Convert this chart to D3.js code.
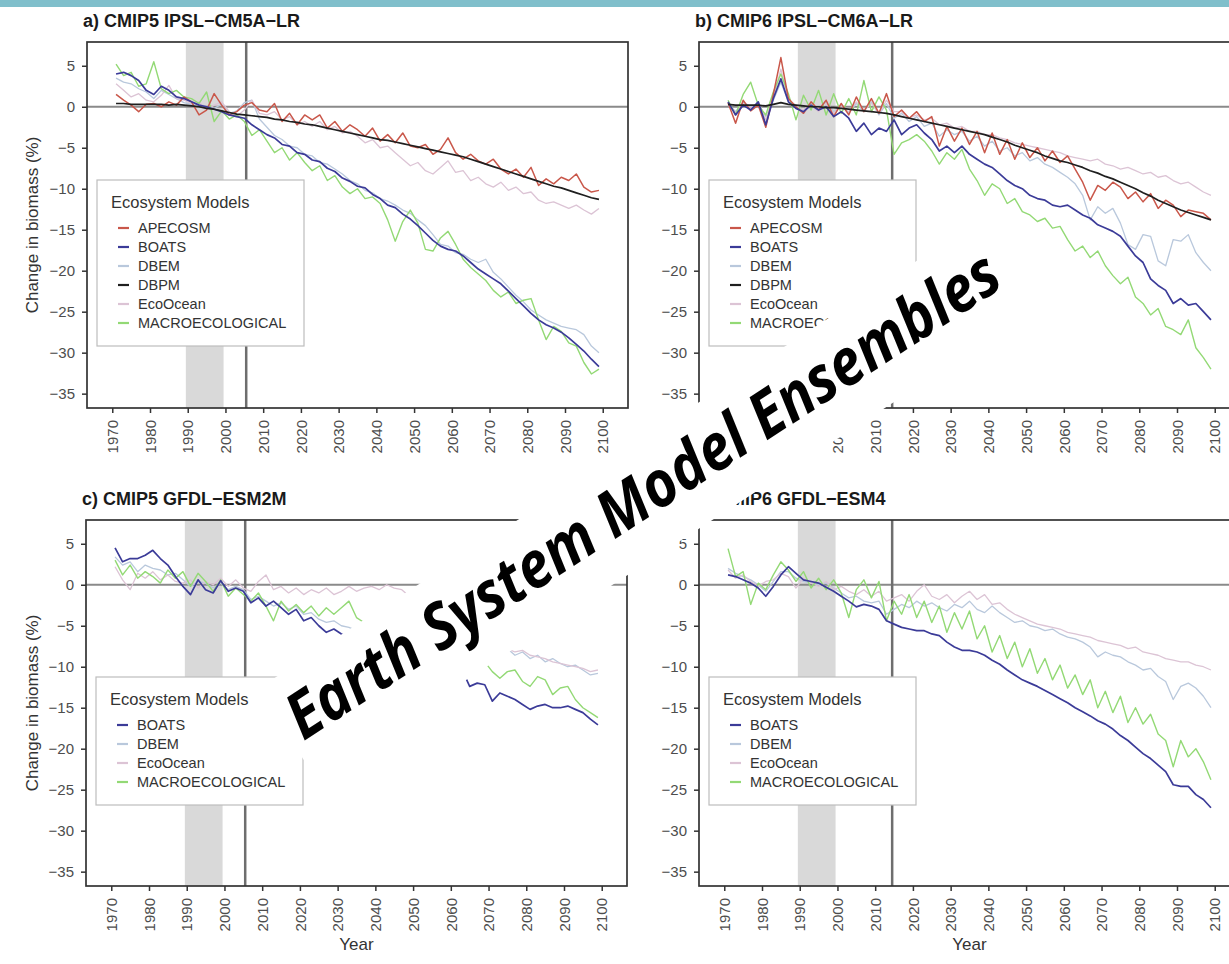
<!DOCTYPE html>
<html>
<head>
<meta charset="utf-8">
<script src="https://cdn.jsdelivr.net/npm/d3@7"></script>
<style>
  body { margin: 0; background: #fff; }
  svg { display: block; font-family: "Liberation Sans", Arial, sans-serif; }
</style>
</head>
<body>
<div id="chart"></div>
<script>
// Data: every second year, 1971-2099
let years = [1971, 1973, 1975, 1977, 1979, 1981, 1983, 1985, 1987, 1989,
  1991, 1993, 1995, 1997, 1999, 2001, 2003, 2005, 2007, 2009,
  2011, 2013, 2015, 2017, 2019, 2021, 2023, 2025, 2027, 2029,
  2031, 2033, 2035, 2037, 2039, 2041, 2043, 2045, 2047, 2049,
  2051, 2053, 2055, 2057, 2059, 2061, 2063, 2065, 2067, 2069,
  2071, 2073, 2075, 2077, 2079, 2081, 2083, 2085, 2087, 2089,
  2091, 2093, 2095, 2097, 2099];

let xTicks = [1970, 1980, 1990, 2000, 2010, 2020, 2030, 2040, 2050, 2060, 2070, 2080, 2090, 2100];
let yTicks = [5, 0, -5, -10, -15, -20, -25, -30, -35];

let modelNames = ["APECOSM", "BOATS", "DBEM", "DBPM", "EcoOcean", "MACROECOLOGICAL"];
let modelColors = ["#c9574a", "#3b3b98", "#b9c8dc", "#1f1f1f", "#dcc4d5", "#93d975"];

let panelTitles = ["a) CMIP5 IPSL\u2212CM5A\u2212LR", "b) CMIP6 IPSL\u2212CM6A\u2212LR",
  "c) CMIP5 GFDL\u2212ESM2M", "d) CMIP6 GFDL\u2212ESM4"];
let historicalEnd = [2005.5, 2014.5, 2005.5, 2014.5];
let referencePeriod = [1989.5, 1999.5];
let overlayText = "Earth System Model Ensembles";

// a) CMIP5 IPSL-CM5A-LR
let apecosmA = [1.5, 0.8, 0.2, -0.6, 0.3, 0.4, 0.0, 0.6, 0.2, 1.2,
  0.6, -1.0, -0.4, 1.6, 0.2, -1.0, -0.6, 0.2, 0.5, -0.4,
  -0.6, 0.4, -1.8, -0.8, -2.2, -1.0, -1.6, -1.0, -2.6, -1.8,
  -3.0, -2.2, -2.8, -3.6, -2.6, -4.2, -3.4, -4.4, -3.2, -4.8,
  -5.0, -4.6, -5.8, -5.2, -3.8, -5.6, -6.4, -5.8, -6.6, -7.0,
  -6.4, -7.6, -8.2, -7.6, -8.6, -7.4, -9.6, -8.8, -9.4, -8.6,
  -9.0, -8.2, -9.8, -10.4, -10.2];
let boatsA = [4.0, 4.2, 3.8, 3.2, 2.0, 1.5, 2.5, 2.0, 1.2, 1.0,
  0.6, 0.2, 0.0, -0.3, -0.6, -1.0, -1.2, -1.4, -2.2, -2.8,
  -3.4, -3.8, -4.6, -4.8, -5.6, -5.8, -6.5, -6.7, -7.5, -7.9,
  -8.7, -9.1, -9.7, -9.9, -10.7, -11.2, -12.0, -12.3, -13.1, -13.7,
  -14.5, -15.4, -16.3, -17.0, -17.4, -17.6, -18.2, -19.0, -19.8, -20.4,
  -21.0, -21.6, -22.5, -23.4, -24.3, -25.2, -26.0, -26.6, -27.0, -27.5,
  -28.2, -29.0, -29.8, -30.8, -31.7];
let dbemA = [3.5, 3.0, 2.8, 2.2, 1.8, 1.0, 2.0, 1.5, 1.0, 0.5,
  0.3, 0.4, 0.0, -0.2, 0.3, -0.8, -0.5, 0.5, 0.8, -1.5,
  -2.5, -3.5, -4.0, -4.8, -5.0, -5.8, -6.0, -6.8, -7.0, -7.6,
  -8.2, -9.0, -9.4, -10.2, -10.5, -11.2, -11.5, -12.0, -12.6, -13.0,
  -13.8, -14.5, -15.6, -16.8, -17.0, -17.8, -18.0, -18.6, -19.0, -18.6,
  -20.2, -21.0, -22.0, -23.0, -23.8, -24.8, -25.4, -26.0, -26.4, -26.8,
  -27.0, -27.2, -27.8, -29.2, -30.0];
let dbpmA = [0.4, 0.4, 0.3, 0.3, 0.3, 0.3, 0.3, 0.2, 0.3, 0.2,
  0.1, 0.0, -0.2, -0.3, -0.5, -0.7, -0.9, -1.0, -1.1, -1.2,
  -1.3, -1.5, -1.6, -1.8, -1.9, -2.1, -2.2, -2.4, -2.6, -2.8,
  -3.0, -3.2, -3.4, -3.6, -3.8, -4.0, -4.1, -4.3, -4.5, -4.7,
  -4.9, -5.1, -5.3, -5.5, -5.7, -5.9, -6.1, -6.4, -6.7, -7.0,
  -7.3, -7.6, -7.9, -8.2, -8.5, -8.8, -9.1, -9.4, -9.7, -9.9,
  -10.2, -10.5, -10.8, -11.1, -11.3];
let ecoOceanA = [2.8, 2.0, 1.2, 1.6, 0.8, 0.6, 1.4, 2.6, 1.0, 0.8,
  0.4, 0.6, -0.4, 0.2, 0.6, -0.6, -1.2, -0.4, 0.8, -0.8,
  -1.0, -0.6, -1.6, -1.2, -2.2, -1.8, -2.4, -1.8, -2.8, -2.4,
  -3.2, -3.0, -3.6, -4.4, -4.0, -5.0, -4.8, -5.6, -6.4, -7.2,
  -6.8, -7.8, -8.2, -7.4, -6.6, -8.0, -7.8, -9.0, -8.6, -9.4,
  -9.8, -9.2, -10.2, -9.8, -10.6, -10.4, -11.4, -11.8, -11.6, -12.0,
  -12.4, -12.0, -12.6, -13.1, -12.4];
let macroA = [5.2, 3.8, 4.2, 2.5, 2.8, 5.5, 2.2, 1.6, 2.0, 1.2,
  1.0, 0.4, 1.8, -1.8, -0.5, -1.5, -1.0, -1.8, -3.5, -2.8,
  -4.2, -5.6, -5.0, -6.5, -5.6, -6.8, -7.8, -7.2, -9.0, -8.4,
  -9.8, -10.6, -10.0, -11.2, -11.0, -11.8, -13.8, -16.4, -14.0, -12.6,
  -14.2, -17.4, -17.6, -16.0, -15.2, -16.8, -18.6, -19.6, -20.4, -21.2,
  -22.4, -23.2, -22.6, -24.0, -23.6, -23.4, -26.0, -28.4, -26.8, -27.4,
  -28.8, -29.2, -31.2, -32.6, -32.0];

// b) CMIP6 IPSL-CM6A-LR
let apecosmB = [0.5, -2.0, 0.8, -0.5, 0.2, -2.5, 1.5, 6.0, 1.0, 0.0,
  -0.8, 0.6, -0.4, 0.8, -1.2, 0.4, -1.0, 1.2, -0.6, 1.0,
  -0.8, 1.6, -1.2, -0.4, -1.4, -0.6, -1.8, -1.2, -4.8, -2.4,
  -4.2, -2.6, -4.6, -3.0, -5.6, -3.2, -5.8, -4.0, -6.4, -4.4,
  -6.2, -5.0, -6.6, -5.4, -6.8, -6.0, -7.6, -9.2, -11.4, -9.6,
  -10.2, -9.2, -9.8, -11.2, -10.4, -11.6, -10.6, -12.4, -11.4, -12.0,
  -13.4, -12.6, -12.8, -13.0, -13.8];
let boatsB = [0.6, -1.0, 0.2, -0.4, 0.6, -2.2, 1.0, 3.4, 0.6, -0.2,
  -0.6, 0.2, -0.4, 0.0, -1.2, -0.6, -1.4, -3.0, -2.0, -3.4,
  -2.6, -3.0, -1.6, -3.4, -2.6, -2.2, -3.2, -4.0, -5.4, -4.8,
  -5.6, -4.8, -5.8, -6.4, -7.0, -7.4, -8.2, -9.0, -9.6, -10.0,
  -10.8, -11.2, -11.4, -12.0, -12.2, -12.0, -12.6, -13.2, -13.6, -14.4,
  -14.8, -15.2, -15.8, -17.0, -18.2, -19.0, -21.0, -21.8, -22.4, -24.0,
  -23.4, -24.2, -24.0, -25.0, -26.0];
let dbemB = [0.4, -0.6, 0.6, 0.0, 0.4, -1.2, 0.8, 3.0, 0.6, 0.0,
  -0.4, 0.4, -0.2, 0.6, -0.6, 0.2, -0.8, 0.4, -0.6, 0.6,
  -1.0, 0.4, -1.4, -0.8, -1.8, -1.2, -2.4, -2.0, -3.6, -2.8,
  -3.4, -3.0, -4.2, -3.6, -4.8, -4.2, -5.4, -5.0, -6.0, -5.6,
  -6.6, -6.2, -7.0, -7.4, -8.0, -8.6, -9.4, -10.8, -13.8, -12.2,
  -13.0, -12.4, -14.2, -16.8, -17.4, -15.6, -15.8, -18.8, -19.4, -16.2,
  -16.4, -15.6, -17.8, -19.0, -20.0];
let dbpmB = [0.3, 0.2, 0.2, 0.2, 0.2, 0.1, 0.3, 0.5, 0.3, 0.2,
  0.1, 0.0, 0.0, -0.1, -0.1, -0.2, -0.3, -0.4, -0.5, -0.6,
  -0.7, -0.8, -1.0, -1.2, -1.4, -1.6, -1.8, -2.0, -2.2, -2.4,
  -2.6, -2.8, -3.0, -3.2, -3.4, -3.7, -4.0, -4.3, -4.7, -5.0,
  -5.3, -5.6, -6.0, -6.3, -6.6, -6.8, -7.1, -7.4, -7.8, -8.1,
  -8.5, -8.8, -9.2, -9.6, -10.0, -10.5, -10.9, -11.4, -11.8, -12.2,
  -12.6, -12.9, -13.2, -13.5, -13.8];
let ecoOceanB = [0.2, -0.8, 0.4, -0.2, 0.6, -1.6, 1.0, 4.6, 0.8, 0.2,
  -0.4, 0.2, -0.6, 0.4, -0.8, 0.0, -0.6, 0.6, -0.4, 0.4,
  -0.8, 0.8, -0.6, -0.6, -1.4, -1.0, -1.6, -1.4, -2.2, -2.0,
  -2.6, -2.4, -3.0, -3.0, -3.4, -3.4, -3.8, -4.0, -4.4, -4.6,
  -4.8, -5.0, -5.2, -5.4, -5.6, -6.0, -6.2, -6.4, -6.6, -6.4,
  -7.0, -7.2, -7.6, -7.4, -7.8, -8.2, -8.0, -8.6, -8.4, -9.0,
  -9.4, -9.2, -9.8, -10.4, -10.8];
let macroB = [0.8, -1.0, 1.5, 3.0, 0.2, -1.0, 1.8, 4.0, 1.6, -1.6,
  1.4, -0.4, 2.0, -1.0, 1.6, -0.8, 1.0, -1.0, 3.2, -0.6,
  1.2, -0.4, -5.8, -4.4, -4.0, -3.4, -4.2, -5.4, -7.0, -5.6,
  -6.4, -5.2, -7.6, -9.0, -10.8, -9.4, -10.0, -11.8, -11.2, -12.8,
  -13.2, -14.0, -13.6, -14.8, -14.6, -16.2, -17.6, -17.0, -18.4, -17.6,
  -19.4, -20.6, -21.6, -20.8, -23.2, -24.0, -25.4, -24.6, -26.8, -27.2,
  -27.8, -26.0, -29.4, -30.6, -32.0];

// c) CMIP5 GFDL-ESM2M
let boatsC = [4.5, 2.8, 3.2, 3.2, 3.6, 4.2, 3.2, 2.4, 1.0, -0.2,
  -1.2, 0.6, -0.6, -1.0, 0.5, -0.8, -0.4, -0.8, -2.2, -1.6,
  -2.6, -2.0, -2.8, -3.6, -3.0, -4.4, -4.0, -5.0, -5.8, -5.4,
  -6.0, -6.4, -6.8, -7.0, -7.4, -7.6, -8.0, -8.2, -8.4, -8.8,
  -9.0, -9.2, -9.4, -9.6, -9.8, -10.0, -10.4, -12.4, -12.0, -12.2,
  -14.2, -13.2, -13.6, -14.0, -14.6, -15.2, -14.8, -14.6, -15.0, -15.0,
  -14.8, -15.2, -15.6, -16.4, -17.1];
let dbemC = [3.4, 2.4, 2.8, 1.6, 2.4, 2.0, 1.8, 1.2, 1.4, 0.6,
  -0.2, 0.4, 0.2, -0.4, 0.2, -0.6, -0.2, -0.6, -1.8, -1.4,
  -2.0, -2.6, -2.2, -3.0, -2.6, -3.6, -3.4, -4.2, -4.6, -4.4,
  -5.0, -5.2, -5.6, -5.8, -6.0, -6.2, -6.4, -6.6, -6.8, -7.0,
  -7.2, -7.4, -7.6, -7.8, -8.0, -8.2, -8.0, -7.6, -6.8, -7.6,
  -7.2, -8.0, -7.8, -8.6, -8.2, -9.0, -8.6, -9.4, -9.0, -9.6,
  -10.0, -9.8, -10.4, -11.0, -10.8];
let ecoOceanC = [2.2, 0.6, -0.6, 1.4, 0.8, 1.6, 0.6, 1.2, 0.4, 0.2,
  0.6, -0.4, 0.4, 0.0, 0.8, -0.2, 0.6, -0.4, -0.8, 0.4,
  1.2, -0.6, -0.2, -1.0, -0.4, -1.2, -0.6, -1.0, -0.4, -1.2,
  -0.8, -0.2, -0.8, -0.4, -0.2, -0.6, 0.0, -0.4, -0.6, -1.4,
  -2.0, -2.8, -3.6, -4.4, -5.2, -5.8, -6.4, -6.8, -7.0, -7.2,
  -7.0, -7.6, -7.8, -8.2, -8.0, -8.6, -8.8, -9.0, -9.4, -9.6,
  -9.8, -10.0, -10.2, -10.6, -10.4];
let macroC = [3.0, 1.2, 2.4, 0.8, 1.6, 1.0, 0.2, 1.8, 0.8, 1.6,
  -0.2, 1.4, 0.4, -0.8, 0.6, -1.4, -0.4, -1.2, -2.0, -1.0,
  -2.6, -4.4, -2.0, -3.2, -2.4, -3.4, -2.6, -3.8, -2.8, -3.6,
  -2.8, -2.0, -4.0, -4.6, -5.2, -5.0, -5.8, -6.2, -6.6, -7.0,
  -7.4, -7.8, -8.2, -8.4, -8.8, -9.2, -9.6, -10.2, -9.6, -9.4,
  -10.6, -11.4, -10.6, -10.4, -11.8, -12.4, -11.2, -11.6, -13.4, -12.6,
  -12.4, -14.0, -15.0, -15.6, -16.2];

// d) CMIP6 GFDL-ESM4
let boatsD = [1.2, 1.0, 0.6, 0.2, -0.4, -1.4, -0.2, 1.2, 2.2, 1.4,
  0.6, 0.4, 0.2, -0.3, -0.8, -1.4, -2.0, -2.7, -2.4, -2.6,
  -3.0, -4.4, -4.8, -5.2, -5.4, -5.6, -5.6, -6.0, -6.2, -7.0,
  -7.6, -8.0, -8.0, -8.2, -8.6, -9.2, -9.7, -10.4, -11.0, -11.6,
  -12.0, -12.4, -12.9, -13.4, -13.9, -14.4, -15.0, -15.5, -16.0, -16.6,
  -17.0, -17.6, -18.4, -19.0, -19.8, -20.6, -21.2, -22.0, -22.8, -24.4,
  -24.6, -24.6, -25.6, -26.2, -27.2];
let dbemD = [2.0, 1.4, 1.0, 0.6, 0.0, -0.8, 0.4, 1.6, 1.6, 0.8,
  0.4, 0.2, 0.0, 0.2, -0.4, -1.0, -1.6, -1.4, -2.0, -2.2,
  -2.0, -3.6, -3.0, -2.4, -2.8, -2.0, -2.6, -2.2, -2.8, -3.2,
  -2.4, -2.8, -2.0, -3.0, -3.4, -2.6, -3.4, -4.0, -4.6, -4.4,
  -5.0, -5.2, -5.6, -5.4, -6.0, -6.4, -6.6, -7.0, -7.6, -8.8,
  -8.2, -8.6, -8.8, -9.4, -9.8, -10.4, -10.2, -11.2, -11.8, -14.0,
  -12.4, -12.0, -12.6, -13.6, -15.0];
let ecoOceanD = [1.8, 0.8, 1.2, 0.4, -0.2, 0.4, 0.6, 1.4, 1.0, -0.4,
  0.8, 0.2, -0.2, 0.4, -0.6, -0.2, -0.8, -1.2, -0.6, -1.4,
  -0.8, -2.0, -1.6, -1.2, -2.0, -0.8, 0.0, -1.4, -1.8, -1.2,
  -2.2, -1.4, -0.8, -1.8, -1.2, -2.4, -2.2, -3.0, -3.6, -4.0,
  -4.4, -4.8, -5.0, -5.2, -5.4, -5.8, -6.0, -6.2, -6.4, -6.8,
  -7.0, -7.2, -7.4, -7.8, -7.6, -8.2, -8.4, -8.6, -9.0, -9.2,
  -9.4, -9.4, -9.8, -10.0, -10.4];
let macroD = [4.4, 1.0, 1.6, -2.4, 0.2, -0.6, 1.2, 2.8, 1.8, 0.4,
  1.6, -0.4, 0.8, -0.6, 0.6, -1.0, -4.0, -0.6, 0.6, -1.6,
  0.4, -4.4, -2.0, -3.6, -1.2, -4.0, -2.0, -4.6, -2.6, -5.8,
  -3.4, -5.4, -3.2, -6.6, -5.0, -8.2, -6.2, -9.0, -7.0, -10.0,
  -7.8, -10.8, -9.0, -11.6, -9.8, -12.6, -11.0, -13.4, -11.6, -15.0,
  -13.0, -15.6, -13.6, -16.8, -15.0, -17.0, -15.8, -18.2, -19.0, -22.2,
  -19.0, -21.0, -20.0, -21.6, -23.8];

let panelSeries = [
  { APECOSM: apecosmA, BOATS: boatsA, DBEM: dbemA, DBPM: dbpmA, EcoOcean: ecoOceanA, MACROECOLOGICAL: macroA },
  { APECOSM: apecosmB, BOATS: boatsB, DBEM: dbemB, DBPM: dbpmB, EcoOcean: ecoOceanB, MACROECOLOGICAL: macroB },
  { BOATS: boatsC, DBEM: dbemC, EcoOcean: ecoOceanC, MACROECOLOGICAL: macroC },
  { BOATS: boatsD, DBEM: dbemD, EcoOcean: ecoOceanD, MACROECOLOGICAL: macroD }
];

// Set up SVG
let svgWidth = 1229;
let svgHeight = 964;
let plotWidth = 541;
let plotHeight = 366;
let panelOrigins = [[87, 42], [699, 42], [86, 520], [699, 520]];

let svg = d3.select("#chart")
  .append("svg")
  .attr("width", svgWidth)
  .attr("height", svgHeight);

svg.append("rect")
  .attr("width", svgWidth)
  .attr("height", svgHeight)
  .attr("fill", "#fff");

// thin coloured strip on top
svg.append("rect")
  .attr("width", svgWidth)
  .attr("height", 7)
  .attr("fill", "#80bfcb");

let xScale = d3.scaleLinear().domain([1963.3, 2106.7]).range([0, plotWidth]);
let yScale = d3.scaleLinear().domain([7.9, -36.75]).range([0, plotHeight]);
let colorScale = d3.scaleOrdinal().domain(modelNames).range(modelColors);
let drawOrder = ["DBEM", "EcoOcean", "MACROECOLOGICAL", "APECOSM", "BOATS", "DBPM"];
let lineWidth = { APECOSM: 1.5, BOATS: 1.7, DBEM: 1.3, DBPM: 1.7, EcoOcean: 1.3, MACROECOLOGICAL: 1.4 };

let minus = d => d < 0 ? "\u2212" + Math.abs(d) : String(d);

let seriesLine = d3.line()
  .x((d, i) => xScale(years[i]))
  .y(d => yScale(d));

panelSeries.forEach((series, p) => {
  let [left, top] = panelOrigins[p];
  let g = svg.append("g").attr("transform", `translate(${left}, ${top})`);

  // reference period and historical end
  g.append("rect")
    .attr("x", xScale(referencePeriod[0]))
    .attr("width", xScale(referencePeriod[1]) - xScale(referencePeriod[0]))
    .attr("y", 0)
    .attr("height", plotHeight)
    .attr("fill", "#d9d9d9");

  g.append("line")
    .attr("x1", 0).attr("x2", plotWidth)
    .attr("y1", yScale(0)).attr("y2", yScale(0))
    .attr("stroke", "#8a8a8a")
    .attr("stroke-width", 2);

  g.append("line")
    .attr("x1", xScale(historicalEnd[p])).attr("x2", xScale(historicalEnd[p]))
    .attr("y1", 0).attr("y2", plotHeight)
    .attr("stroke", "#6e6e6e")
    .attr("stroke-width", 2.5);

  // model lines
  drawOrder.filter(name => series[name]).forEach(name => {
    g.append("path")
      .datum(series[name])
      .attr("fill", "none")
      .attr("stroke", colorScale(name))
      .attr("stroke-width", lineWidth[name])
      .attr("stroke-linejoin", "round")
      .attr("d", seriesLine);
  });

  // axes
  let yAxis = g.append("g")
    .call(d3.axisLeft(yScale).tickValues(yTicks).tickSize(5).tickPadding(7).tickFormat(minus));
  let xAxis = g.append("g")
    .attr("transform", `translate(0, ${plotHeight})`)
    .call(d3.axisBottom(xScale).tickValues(xTicks).tickSize(5).tickFormat(d3.format("d")));

  [yAxis, xAxis].forEach(axis => {
    axis.select(".domain").remove();
    axis.selectAll(".tick line").attr("stroke", "#333").attr("stroke-width", 1.5);
    axis.selectAll(".tick text")
      .attr("fill", "#4d4d4d")
      .style("font-size", "15px")
      .style("font-family", "Liberation Sans, Arial, sans-serif");
  });
  xAxis.selectAll(".tick text")
    .attr("transform", "rotate(-90)")
    .attr("text-anchor", "end")
    .attr("x", -12)
    .attr("y", 0)
    .attr("dy", "0.35em");

  // legend
  let names = modelNames.filter(name => series[name]);
  let legendH = 71 + (names.length - 1) * 19;
  let legend = g.append("g")
    .attr("transform", `translate(10, ${221 - legendH / 2})`);
  legend.append("rect")
    .attr("width", 207)
    .attr("height", legendH)
    .attr("fill", "#fff")
    .attr("stroke", "#bdbdbd")
    .attr("stroke-width", 1.2);
  legend.append("text")
    .attr("x", 14)
    .attr("y", 28)
    .attr("fill", "#333")
    .style("font-size", "16.5px")
    .text("Ecosystem Models");
  names.forEach((name, i) => {
    let yy = 48 + i * 19;
    legend.append("line")
      .attr("x1", 21).attr("x2", 32)
      .attr("y1", yy).attr("y2", yy)
      .attr("stroke", colorScale(name))
      .attr("stroke-width", 2.2);
    legend.append("text")
      .attr("x", 41)
      .attr("y", yy)
      .attr("dy", "0.36em")
      .attr("fill", "#333")
      .style("font-size", "14.5px")
      .text(name);
  });

  // panel border
  g.append("rect")
    .attr("width", plotWidth)
    .attr("height", plotHeight)
    .attr("fill", "none")
    .attr("stroke", "#333")
    .attr("stroke-width", 1.7);

  // panel title
  g.append("text")
    .attr("x", -4)
    .attr("y", -15)
    .attr("fill", "#1a1a1a")
    .style("font-size", "18px")
    .style("font-weight", "bold")
    .text(panelTitles[p]);

  // axis titles
  if (p % 2 === 0) {
    g.append("text")
      .attr("transform", `translate(${32 - left}, ${plotHeight / 2}) rotate(-90)`)
      .attr("text-anchor", "middle")
      .attr("dy", "0.35em")
      .attr("fill", "#333")
      .style("font-size", "17px")
      .text("Change in biomass (%)");
  }
  if (p >= 2) {
    g.append("text")
      .attr("x", plotWidth / 2)
      .attr("y", 950 - top)
      .attr("text-anchor", "middle")
      .attr("fill", "#333")
      .style("font-size", "17px")
      .text("Year");
  }
});

// white banner with the overlay title
let banner = svg.append("g")
  .attr("transform", "translate(648, 495) rotate(-33)");
banner.append("rect")
  .attr("x", -433)
  .attr("y", -50)
  .attr("width", 862)
  .attr("height", 106)
  .attr("fill", "#fff");
banner.append("text")
  .attr("x", -423)
  .attr("y", 19)
  .attr("textLength", 837)
  .attr("lengthAdjust", "spacingAndGlyphs")
  .attr("fill", "#000")
  .style("font-family", "'Open Sans', sans-serif")
  .style("font-weight", "bold")
  .style("font-style", "italic")
  .style("font-size", "64px")
  .text(overlayText);
</script>
</body>
</html>
